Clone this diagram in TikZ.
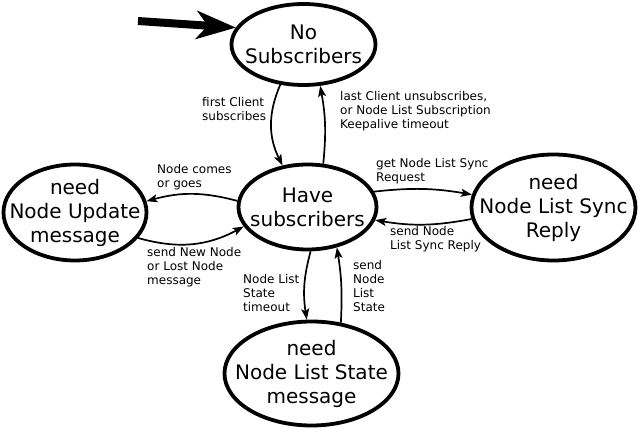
\documentclass[tikz,border=0pt]{standalone}
\usepackage{fontspec}
\setmainfont{DejaVu Sans}
\usetikzlibrary{arrows.meta, shapes.geometric}

\begin{document}
\begin{tikzpicture}[x=1pt, y=1pt,
  state/.style={draw, ellipse, line width=3.8pt, inner sep=0pt},
  statetext/.style={align=center, font=\fontsize{20}{24}\selectfont},
  trans/.style={-{Stealth[length=11pt,width=8pt,inset=2.5pt]}, line width=1.7pt},
  lbl/.style={align=left, anchor=north west, inner sep=0pt, font=\fontsize{12}{14}\selectfont}]
\useasboundingbox (0,0) rectangle (638,-430);

\node[state, minimum width=144pt, minimum height=81pt, label={[statetext]center:No\\Subscribers}] (nosub) at (303.5,-44.5) {};
\node[state, minimum width=138pt, minimum height=85pt, label={[statetext]center:Have\\subscribers}] (have) at (307.5,-207) {};
\node[state, minimum width=143pt, minimum height=96pt, label={[statetext]center:need\\Node Update\\message}] (upd) at (75,-212.5) {};
\node[state, minimum width=164pt, minimum height=106pt, label={[statetext]center:need\\Node List Sync\\Reply}] (sync) at (553.5,-207.5) {};
\node[state, minimum width=174pt, minimum height=104pt, label={[statetext]center:need\\Node List State\\message}] (nls) at (311.5,-373.5) {};

\coordinate (start) at (138,-21);
\draw[line width=8pt, -{Stealth[length=40pt,width=29pt,inset=12pt,line width=1pt]}] (start) -- (nosub.166);

\draw[trans] (nosub.240) to[bend right=25] (have.121);
\draw[trans] (have.70) to[bend right=8] (nosub.292);
\draw[trans] (have.175) to[bend right=15] (upd.9);
\draw[trans] (upd.338) to[bend right=22] (have.197);
\draw[trans] (have.13) to[bend left=8] (sync.171);
\draw[trans] (sync.188) to[bend left=10] (have.349);
\draw[trans] (have.274) to[bend right=12] (nls.95);
\draw[trans] (nls.60) to[bend right=6] (have.306);

\node[lbl] (lfirst) at (202,-97) {first Client\\subscribes};
\node[lbl] (llast) at (340,-91) {last Client unsubscribes,\\or Node List Subscription\\Keepalive timeout};
\node[lbl] (lcomes) at (157,-164) {Node comes\\or goes};
\node[lbl] (lsend) at (147,-247) {send New Node\\or Lost Node\\message};
\node[lbl] (lget) at (376,-158) {get Node List Sync\\Request};
\node[lbl] (lreply) at (390,-226) {send Node\\List Sync Reply};
\node[lbl] (ltimeout) at (243,-274) {Node List\\State\\timeout};
\node[lbl] (lstate) at (353,-260) {send\\Node\\List\\State};
\end{tikzpicture}
\end{document}
